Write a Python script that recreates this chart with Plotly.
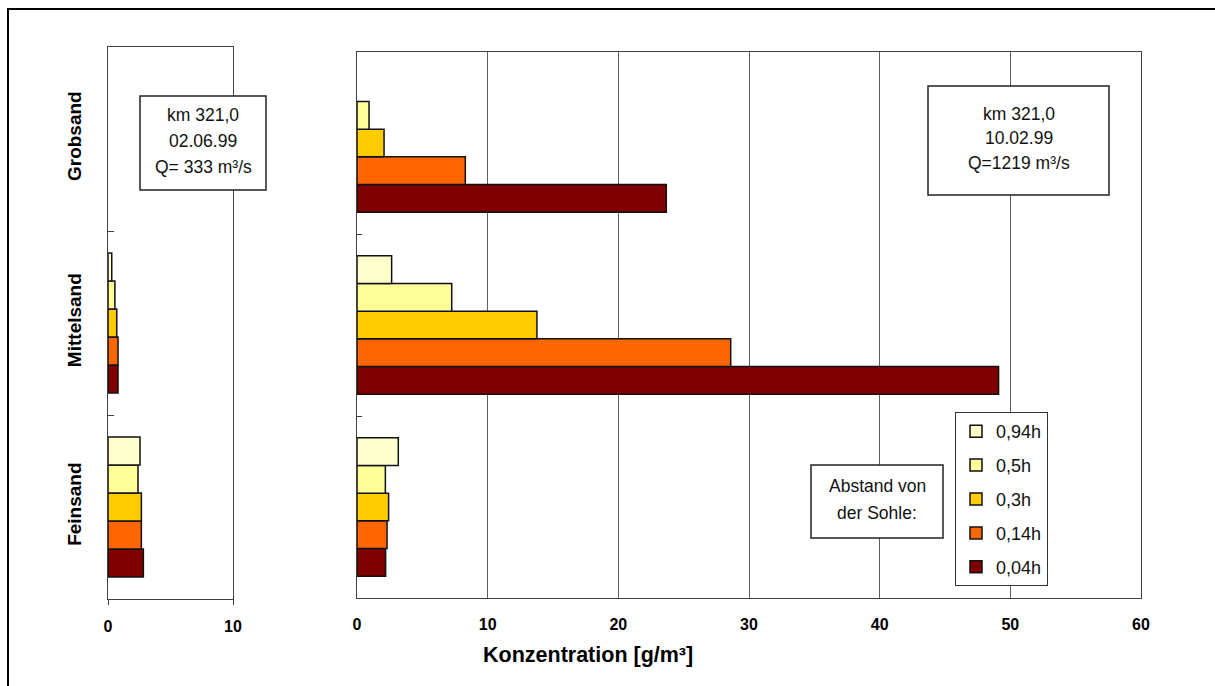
import plotly.graph_objects as go

# Sediment fractions (bottom to top on the category axis)
categories = ["Feinsand", "Mittelsand", "Grobsand"]

# Sampling heights above the river bed, plotted bottom-up within each group
heights = ["0,04h", "0,14h", "0,3h", "0,5h", "0,94h"]
colors = ["#800000", "#FF6600", "#FFCC00", "#FFFF99", "#FFFFCC"]

# Concentrations [g/m³] at km 321,0 on 02.06.99 (Q = 333 m³/s)
# order per series: Feinsand, Mittelsand, Grobsand (None = not measured)
conc_020699 = {
    "0,04h": [2.83, 0.80, None],
    "0,14h": [2.67, 0.80, None],
    "0,3h": [2.67, 0.70, None],
    "0,5h": [2.40, 0.55, None],
    "0,94h": [2.56, 0.30, None],
}

# Concentrations [g/m³] at km 321,0 on 10.02.99 (Q = 1219 m³/s)
conc_100299 = {
    "0,04h": [2.19, 49.1, 23.67],
    "0,14h": [2.30, 28.6, 8.29],
    "0,3h": [2.42, 13.77, 2.07],
    "0,5h": [2.17, 7.25, 0.92],
    "0,94h": [3.16, 2.65, None],
}

left_ticks = [0, 10]
right_ticks = [0, 10, 20, 30, 40, 50, 60]

FONT = "Arial, Liberation Sans, sans-serif"
W, H = 1215, 686


def px_x(v):
    return v / W


def px_y(v):
    return 1 - v / H


fig = go.Figure()

n_series = len(heights)
for i, (name, col) in enumerate(zip(heights, colors)):
    # legend lists the highest sampling point first
    rank = n_series - i
    fig.add_trace(go.Bar(
        x=conc_020699[name], y=categories, orientation="h",
        name=name, legendgroup=name, legendrank=rank, showlegend=False,
        marker=dict(color=col, line=dict(color="#111111", width=1.5)),
        xaxis="x", yaxis="y",
    ))
    fig.add_trace(go.Bar(
        x=conc_100299[name], y=categories, orientation="h",
        name=name, legendgroup=name, legendrank=rank, showlegend=True,
        marker=dict(color=col, line=dict(color="#111111", width=1.5)),
        xaxis="x2", yaxis="y2",
    ))

axis_common = dict(
    showline=True, linecolor="#404040", linewidth=1, mirror=True,
    zeroline=False, automargin=False,
)

fig.update_layout(
    width=W, height=H,
    margin=dict(l=0, r=0, t=0, b=0, autoexpand=False),
    paper_bgcolor="white", plot_bgcolor="white",
    barmode="group", bargap=0.24, bargroupgap=0,
    font=dict(family=FONT, color="black"),
    xaxis=dict(
        domain=[px_x(108), px_x(233)], range=[0, 10],
        tickvals=left_ticks, ticks="outside", ticklen=5, tickcolor="#404040",
        showgrid=True, gridcolor="#606060",
        tickfont=dict(size=16, family=FONT, weight="bold"),
        ticklabelstandoff=8, anchor="y",
        **axis_common,
    ),
    yaxis=dict(
        domain=[px_y(599), px_y(47)], type="category",
        categoryorder="array", categoryarray=categories, range=[-0.5, 2.5],
        ticks="inside", ticklen=6, tickson="boundaries", tickcolor="#404040",
        tickangle=-90, tickfont=dict(size=19, family=FONT, weight="bold"),
        ticklabelstandoff=18, showgrid=False, anchor="x",
        **axis_common,
    ),
    xaxis2=dict(
        domain=[px_x(357), px_x(1141)], range=[0, 60],
        tickvals=right_ticks, ticks="", showgrid=True, gridcolor="#606060",
        tickfont=dict(size=16, family=FONT, weight="bold"),
        ticklabelstandoff=12, anchor="y2",
        **axis_common,
    ),
    yaxis2=dict(
        domain=[px_y(598), px_y(52)], type="category",
        categoryorder="array", categoryarray=categories, range=[-0.5, 2.5],
        ticks="inside", ticklen=5, tickson="boundaries", tickcolor="#404040",
        showticklabels=False, showgrid=False, anchor="x2",
        **axis_common,
    ),
    legend=dict(
        x=px_x(955), y=px_y(412), xanchor="left", yanchor="top",
        bgcolor="white", bordercolor="#333333", borderwidth=1,
        traceorder="grouped", tracegroupgap=7.5,
        font=dict(size=18, family=FONT, color="#111111"),
        itemwidth=30,
    ),
)

# Outer frame of the whole graphic
fig.add_shape(type="rect", xref="paper", yref="paper",
              x0=px_x(8), y0=px_y(9), x1=px_x(1225), y1=px_y(700),
              line=dict(color="black", width=2), layer="below")

# Text boxes with station information
boxes = [
    (140, 96, 266, 190, ["km 321,0", "02.06.99", "Q= 333 m³/s"], 26),
    (928, 86, 1109, 195, ["km 321,0", "10.02.99", "Q=1219 m³/s"], 24.5),
    (811, 465, 943, 538, ["Abstand von", "der Sohle:"], 26.5),
]
for x0, y0, x1, y1, lines, step in boxes:
    fig.add_shape(type="rect", xref="paper", yref="paper",
                  x0=px_x(x0), y0=px_y(y0), x1=px_x(x1), y1=px_y(y1),
                  line=dict(color="#222222", width=1.5), fillcolor="white",
                  layer="above")
    cx = (x0 + x1) / 2
    cy = (y0 + y1) / 2 - 2
    n = len(lines)
    for i, t in enumerate(lines):
        yy = cy + (i - (n - 1) / 2) * step
        fig.add_annotation(x=px_x(cx), y=px_y(yy), xref="paper", yref="paper",
                           text=t, showarrow=False,
                           font=dict(size=17.5, family=FONT, color="#111111"),
                           xanchor="center", yanchor="middle")

# Shared axis title
fig.add_annotation(x=px_x(588), y=px_y(655), xref="paper", yref="paper",
                   text="<b>Konzentration [g/m³]</b>", showarrow=False,
                   font=dict(size=21.5, family=FONT, color="black"),
                   xanchor="center", yanchor="middle")

fig.write_html("out.html")
